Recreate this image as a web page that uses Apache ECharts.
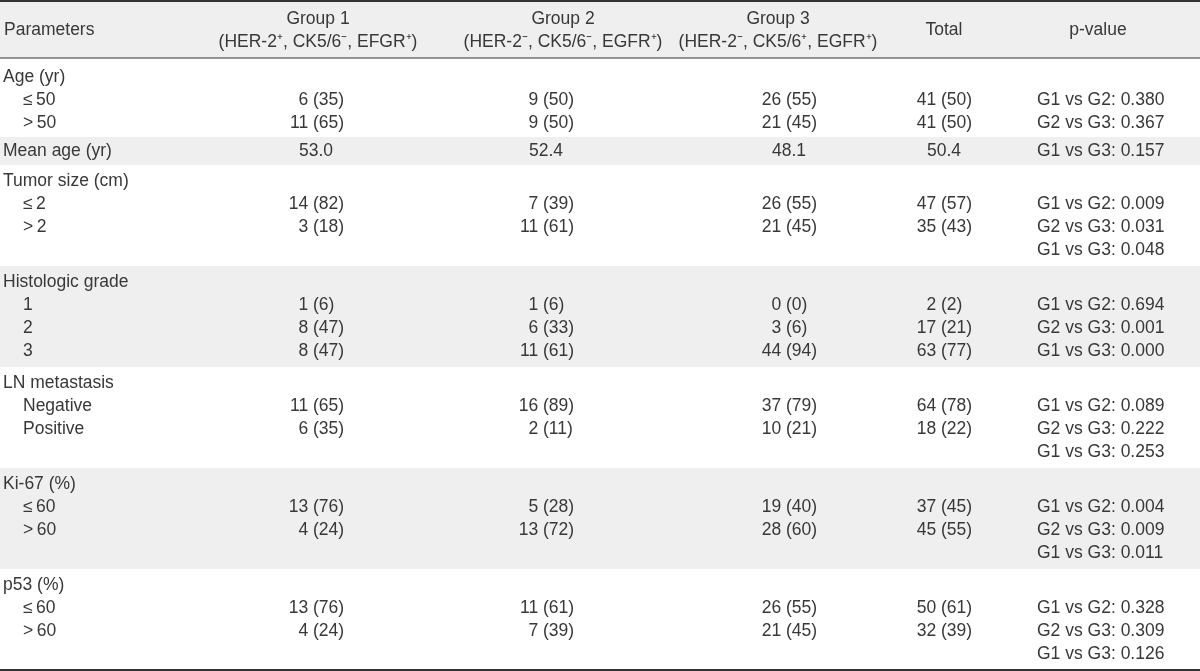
<!DOCTYPE html>
<html>
<head>
<meta charset="utf-8">
<script src="https://cdn.jsdelivr.net/npm/echarts@6/dist/echarts.min.js"></script>
<style>html,body{margin:0;padding:0;background:#fff}#c{width:1200px;height:671px}</style>
</head>
<body>
<div id="c"></div>
<script>
// ---------- DATA ----------
const headerLabels = ['Parameters', 'Group 1', 'Group 2', 'Group 3', 'Total', 'p-value'];
const headerSubLabels = ['', '(HER-2\u207A, CK5/6\u207B, EFGR\u207A)', '(HER-2\u207B, CK5/6\u207B, EGFR\u207A)', '(HER-2\u207B, CK5/6\u207A, EGFR\u207A)', '', ''];
const variables = ['Age (yr)', 'Tumor size (cm)', 'Histologic grade', 'LN metastasis', 'Ki-67 (%)', 'p53 (%)'];
const levels = [['\u2264\u200950', '>\u200950'], ['\u2264\u20092', '>\u20092'], ['1', '2', '3'], ['Negative', 'Positive'], ['\u2264\u200960', '>\u200960'], ['\u2264\u200960', '>\u200960']];
const g1Count = [[6, 11], [14, 3], [1, 8, 8], [11, 6], [13, 4], [13, 4]];
const g1Pct   = [[35, 65], [82, 18], [6, 47, 47], [65, 35], [76, 24], [76, 24]];
const g2Count = [[9, 9], [7, 11], [1, 6, 11], [16, 2], [5, 13], [11, 7]];
const g2Pct   = [[50, 50], [39, 61], [6, 33, 61], [89, 11], [28, 72], [61, 39]];
const g3Count = [[26, 21], [26, 21], [0, 3, 44], [37, 10], [19, 28], [26, 21]];
const g3Pct   = [[55, 45], [55, 45], [0, 6, 94], [79, 21], [40, 60], [55, 45]];
const totCount = [[41, 41], [47, 35], [2, 17, 63], [64, 18], [37, 45], [50, 32]];
const totPct   = [[50, 50], [57, 43], [2, 21, 77], [78, 22], [45, 55], [61, 39]];
const meanAgeLabel = 'Mean age (yr)';
const meanAge = [53.0, 52.4, 48.1, 50.4];
const pPairs = ['G1 vs G2', 'G2 vs G3', 'G1 vs G3'];
const pValues = [[0.380, 0.367, 0.157], [0.009, 0.031, 0.048], [0.694, 0.001, 0.000], [0.089, 0.222, 0.253], [0.004, 0.009, 0.011], [0.328, 0.309, 0.126]];

// ---------- LAYOUT ----------
const W = 1200, H = 671;
const headerH = 58;
const pitch = 22.8;
const colAnchor = [313, 543, 786, 941];     // position of "(" in each numeric column
const headCenter = [318, 563, 778, 944, 1098];
const pX = 1037, xHead = 3, xSub = 23;
const FONT = '17.5px "Liberation Sans", Arial, sans-serif';
const TXT = '#383838';
const BAND = '#efefef';

// block order: Age, Mean age, Tumor, Histologic, LN, Ki-67, p53
const blockKind = ['v0', 'mean', 'v1', 'v2', 'v3', 'v4', 'v5'];
const blockLines = [3, 1, 4, 4, 4, 4, 4];
const blockH = [79, 28, 101, 101, 101, 101, 101];
const blockTopPad = [8, 2.6, 4.9, 4.9, 4.9, 4.9, 4.9];
const blockShade = [false, true, false, true, false, true, false];

const bands = [[0, 0, W, headerH]];
const rules = [[0, 1, W, 1, 2], [0, headerH, W, headerH, 1.2]];
const cells = [];
const lineY = [];   // global line centers
let yCursor = headerH;
blockH.forEach((h, b) => {
  if (blockShade[b]) bands.push([0, yCursor, W, yCursor + h]);
  for (let i = 0; i < blockLines[b]; i++) lineY.push({ y: yCursor + blockTopPad[b] + pitch / 2 + i * pitch, block: b, i });
  yCursor += h;
});
rules.push([0, yCursor, W, yCursor, 2]);

function addNum(col, y, n, pct) {
  cells.push({ x: colAnchor[col], y, text: n + ' ', align: 'right' });
  cells.push({ x: colAnchor[col], y, text: '(' + pct + ')', align: 'left' });
}
// header
cells.push({ x: xHead + 1, y: 30, text: headerLabels[0], align: 'left' });
for (let c = 1; c <= 3; c++) {
  cells.push({ x: headCenter[c - 1], y: 19, text: headerLabels[c], align: 'center' });
  cells.push({ x: headCenter[c - 1], y: 42, text: headerSubLabels[c], align: 'center' });
}
cells.push({ x: headCenter[3], y: 30, text: headerLabels[4], align: 'center' });
cells.push({ x: headCenter[4], y: 30, text: headerLabels[5], align: 'center' });

// body
const firstLineOfBlock = [];
lineY.forEach((l, g) => { if (l.i === 0) firstLineOfBlock[l.block] = g; });
blockKind.forEach((k, b) => {
  const g0 = firstLineOfBlock[b];
  if (k === 'mean') {
    const y = lineY[g0].y;
    cells.push({ x: xHead, y, text: meanAgeLabel, align: 'left' });
    meanAge.forEach((v, c) => cells.push({ x: colAnchor[c] + 3, y, text: v.toFixed(1), align: 'center' }));
    return;
  }
  const v = +k.slice(1);
  cells.push({ x: xHead, y: lineY[g0].y, text: variables[v], align: 'left' });
  levels[v].forEach((lv, j) => {
    const y = lineY[g0 + 1 + j].y;
    cells.push({ x: xSub, y, text: lv, align: 'left' });
    addNum(0, y, g1Count[v][j], g1Pct[v][j]);
    addNum(1, y, g2Count[v][j], g2Pct[v][j]);
    addNum(2, y, g3Count[v][j], g3Pct[v][j]);
    addNum(3, y, totCount[v][j], totPct[v][j]);
  });
  pPairs.forEach((pp, j) => {
    const y = lineY[g0 + 1 + j].y;
    cells.push({ x: pX, y, text: pp + ': ' + pValues[v][j].toFixed(3), align: 'left' });
  });
});

// ---------- CHART ----------
const chart = echarts.init(document.getElementById('c'), null, { renderer: 'canvas' });
chart.setOption({
  animation: false,
  grid: { left: 0, right: 0, top: 0, bottom: 0 },
  xAxis: { type: 'value', min: 0, max: W, show: false },
  yAxis: { type: 'value', min: 0, max: H, inverse: true, show: false },
  series: [
    {
      type: 'custom', silent: true, encode: { x: [0, 2], y: [1, 3] },
      data: bands,
      renderItem: (params, api) => {
        const p0 = api.coord([api.value(0), api.value(1)]);
        const p1 = api.coord([api.value(2), api.value(3)]);
        return { type: 'rect', shape: { x: p0[0], y: p0[1], width: p1[0] - p0[0], height: p1[1] - p0[1] }, style: { fill: BAND } };
      }
    },
    {
      type: 'custom', silent: true, encode: { x: [0, 2], y: [1, 3] },
      data: rules,
      renderItem: (params, api) => {
        const p0 = api.coord([api.value(0), api.value(1)]);
        const p1 = api.coord([api.value(2), api.value(3)]);
        return { type: 'line', shape: { x1: p0[0], y1: p0[1], x2: p1[0], y2: p1[1] }, style: { stroke: '#333', lineWidth: api.value(4) } };
      }
    },
    {
      type: 'custom', silent: true, encode: { x: 0, y: 1 },
      data: cells.map(c => [c.x, c.y]),
      renderItem: (params, api) => {
        const c = cells[params.dataIndex];
        const p = api.coord([api.value(0), api.value(1)]);
        return { type: 'text', x: p[0], y: p[1], style: { text: c.text, textAlign: c.align, textVerticalAlign: 'middle', font: FONT, fill: TXT } };
      }
    }
  ]
});
</script>
</body>
</html>
